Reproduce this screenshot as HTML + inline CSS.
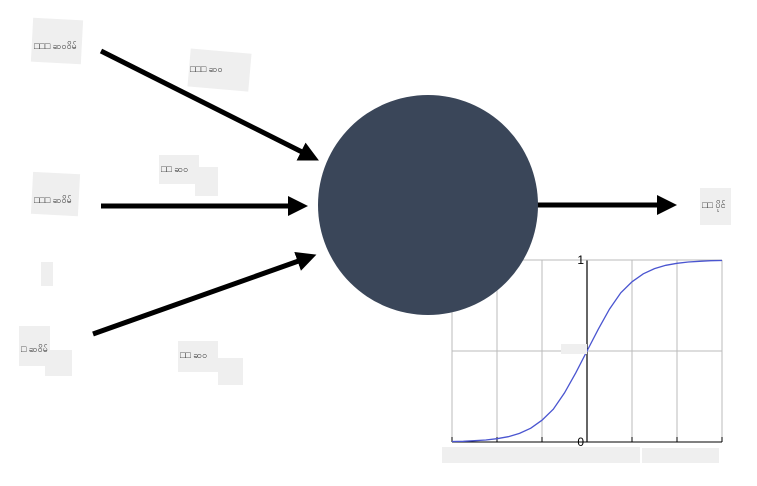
<!DOCTYPE html>
<html><head><meta charset="utf-8"><style>
body{margin:0;background:#fff;width:757px;height:486px;overflow:hidden;font-family:"Liberation Sans",sans-serif}
svg{display:block}
.lb{fill:#efefef}
.t{font-size:9px;fill:#333;font-family:"Liberation Sans","Noto Sans CJK SC",sans-serif}
</style></head><body>
<svg width="757" height="486">
<defs><marker id="ah" markerWidth="4" markerHeight="4" refX="2" refY="2" orient="auto"><path d="M0,0L4,2L0,4Z" fill="#000"/></marker></defs>
<g>
<rect class="lb" x="32" y="19" width="50" height="44" transform="rotate(3 57 41)"/><text class="t" x="34" y="49">□□□ ဆဝဝိမ်</text>
<rect class="lb" x="32" y="173" width="47" height="42" transform="rotate(3 55 194)"/><text class="t" x="34" y="203">□□□ ဆဝိမ်</text>
<rect class="lb" x="41" y="262" width="12" height="24"/>
<rect class="lb" x="19" y="326" width="31" height="40"/><rect class="lb" x="45" y="350" width="27" height="26"/><text class="t" x="21" y="352">□ ဆဝိမ်</text>
<rect class="lb" x="189" y="51" width="61" height="38" transform="rotate(5 219 70)"/><text class="t" x="190" y="72">□□□ ဆဝ</text>
<rect class="lb" x="159" y="155" width="40" height="29"/><rect class="lb" x="195" y="167" width="23" height="29"/><text class="t" x="161" y="172">□□ ဆဝ</text>
<rect class="lb" x="178" y="341" width="40" height="31"/><rect class="lb" x="218" y="358" width="25" height="27"/><text class="t" x="180" y="358">□□ ဆဝ</text>
<rect class="lb" x="700" y="188" width="31" height="37"/><text class="t" x="702" y="208">□□ ပိုင်</text>
</g>
<g stroke="#000" stroke-width="5">
<line x1="101" y1="51" x2="310" y2="156" marker-end="url(#ah)"/>
<line x1="101" y1="206" x2="298" y2="206" marker-end="url(#ah)"/>
<line x1="93" y1="334" x2="307" y2="258" marker-end="url(#ah)"/>
<line x1="535" y1="205" x2="667" y2="205" marker-end="url(#ah)"/>
</g>
<g id="chart"></g>
<circle cx="428" cy="205" r="110" fill="#3a4659"/>
</svg>
<script>
const xs=[-6,-5.5,-5,-4.5,-4,-3.5,-3,-2.5,-2,-1.5,-1,-0.5,0,0.5,1,1.5,2,2.5,3,3.5,4,4.5,5,5.5,6];
const ys=[0.0025,0.004,0.007,0.011,0.018,0.029,0.047,0.076,0.12,0.18,0.27,0.38,0.5,0.62,0.73,0.82,0.88,0.924,0.953,0.971,0.982,0.989,0.993,0.996,0.9975];
const xTicks=[-6,-4,-2,0,2,4,6];
const yTicks=[0,0.5,1];
const g=document.getElementById('chart');
const NS='http://www.w3.org/2000/svg';
const X=v=>452+(v+6)*270/12, Y=v=>442-v*182;
function el(t,a){const e=document.createElementNS(NS,t);for(const k in a)e.setAttribute(k,a[k]);g.appendChild(e);return e;}
xTicks.forEach(t=>{const e=el('line',{x1:X(t),x2:X(t),y1:Y(1),y2:Y(0),stroke:t===0?'#000':'#bbb','stroke-width':t===0?1.2:1});


const k=el('line',{x1:X(t),x2:X(t),y1:Y(0)-5,y2:Y(0),stroke:'#000'});

});
yTicks.forEach(t=>{const e=el('line',{x1:X(-6),x2:X(6),y1:Y(t),y2:Y(t),stroke:t===0?'#000':'#bbb'});

});
[[1,'1'],[0,'0']].forEach(([v,s])=>{const e=el('text',{x:X(0)-3,y:Y(v)+4,'text-anchor':'end','font-size':12,fill:'#000'});e.textContent=s;

});
const p=el('path',{d:xs.map((x,i)=>(i?'L':'M')+X(x).toFixed(1)+','+Y(ys[i]).toFixed(1)).join(''),fill:'none',stroke:'#4a55d0','stroke-width':1.3});


const b1=el('rect',{x:442,y:447,width:198,height:16,fill:'#efefef'});


const b2=el('rect',{x:642,y:448,width:77,height:15,fill:'#efefef'});


const b3=el('rect',{x:561,y:344,width:26,height:10,fill:'#efefef'});


</script>
</body></html>
